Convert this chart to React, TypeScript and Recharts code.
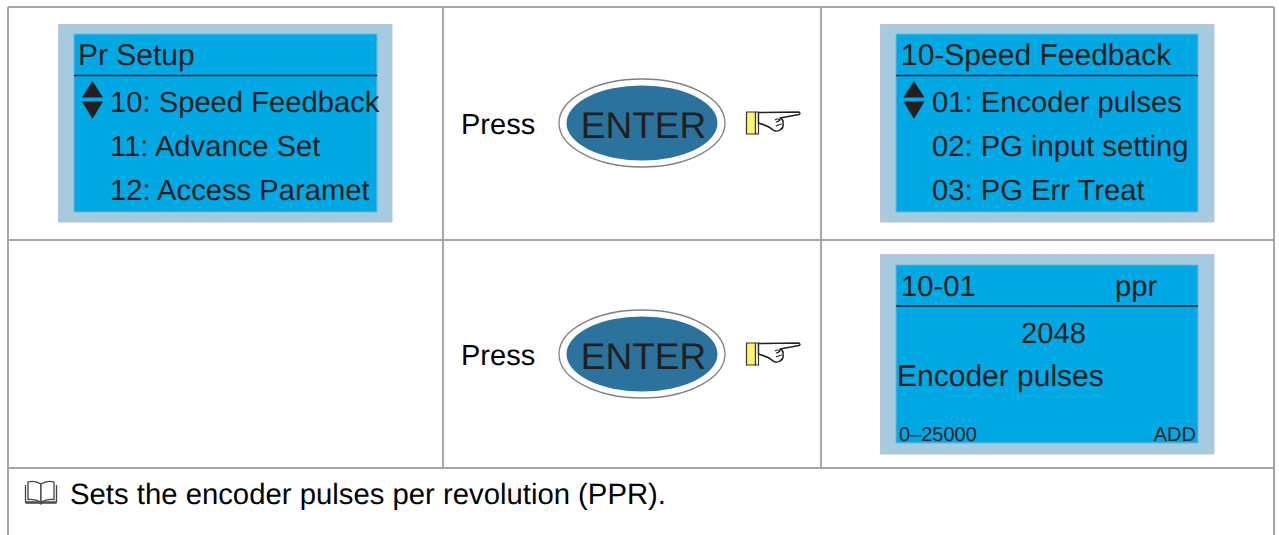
import { ScatterChart, Scatter, XAxis, YAxis, ReferenceArea, ReferenceLine } from 'recharts'

const WIDTH = 1279
const HEIGHT = 535

// table grid, read in picture pixels
const columnEdges = [8, 443, 821, 1274]
const rowEdges = [7, 240, 468]

// lcd screens: [outer left, outer right, outer top, outer bottom]
const screenOuter = [
  [58.5, 392, 24.5, 222],
  [880.5, 1214, 24.5, 222],
  [880.5, 1214, 254.5, 454],
]
const screenInner = [
  [74, 377, 34, 212],
  [896, 1198, 34, 212],
  [896, 1198, 265, 443],
]
const screenRuleY = [75.5, 75.5, 306]

const titleLabels = ['Pr Setup', '10-Speed Feedback', 'Encoder pulses']
const titleX = [78, 901, 897]
const titleY = [65, 65, 386]

const menuLabels = ['10: Speed Feedback', '11: Advance Set', '12: Access Paramet']
const menuX = [110, 110, 110]
const feedbackLabels = ['01: Encoder pulses', '02: PG input setting', '03: PG Err Treat']
const feedbackX = [932, 932, 932]
const menuBaselines = [112, 156, 200]

const paramLabels = ['10-01', 'ppr', '2048']
const paramX = [901, 1115, 1021]
const paramY = [296, 296, 343]
const rangeLabels = ['0–25000']
const addLabels = ['ADD']

const arrowX = [92.5, 914]
const arrowY = [100, 100]

const pressX = [461, 461]
const pressY = [134, 365]
const enterX = [642, 642]
const enterY = [123, 354]
const handX = [773, 773]
const handY = [123, 354]

const noteLabel = 'Sets the encoder pulses per revolution (PPR).'

const FONT = '"Liberation Sans", Arial, sans-serif'
const INK = '#231f20'

const titlePoints = titleLabels.map((label, i) => ({ x: titleX[i], y: titleY[i], label }))
const lcdPoints = [
  ...menuLabels.map((label, i) => ({ x: menuX[i], y: menuBaselines[i], label })),
  ...feedbackLabels.map((label, i) => ({ x: feedbackX[i], y: menuBaselines[i], label })),
  ...paramLabels.map((label, i) => ({ x: paramX[i], y: paramY[i], label })),
]

const TextMark = ({ cx, cy, payload, size, fill, anchor }: any) => (
  <text
    x={cx}
    y={cy}
    fontSize={size}
    fontFamily={FONT}
    fill={fill}
    textAnchor={anchor || 'start'}
    textRendering="geometricPrecision"
  >
    {payload.label}
  </text>
)

const ArrowsMark = ({ cx, cy }: any) => (
  <g fill={INK}>
    <path d={`M${cx} ${cy - 19}L${cx + 10.5} ${cy - 2.5}H${cx - 10.5}Z`} />
    <path d={`M${cx} ${cy + 19}L${cx + 10.5} ${cy + 1.5}H${cx - 10.5}Z`} />
  </g>
)

const EnterMark = ({ cx, cy }: any) => (
  <g>
    <ellipse cx={cx} cy={cy} rx={83} ry={44} fill="#fff" stroke="#808080" strokeWidth={1.3} />
    <ellipse cx={cx} cy={cy} rx={75.5} ry={37.5} fill="#2b729c" />
    <text
      x={cx + 1.5}
      y={cy + 14.5}
      fontSize={37}
      fontFamily={FONT}
      fill={INK}
      textAnchor="middle"
      textRendering="geometricPrecision"
    >
      ENTER
    </text>
  </g>
)

const HandMark = ({ cx, cy }: any) => (
  <g transform={`translate(${cx} ${cy})`} strokeLinejoin="round">
    <rect x={-26.5} y={-11} width={9} height={22} fill="#fff568" stroke="#333" strokeWidth={1.2} />
    <rect x={-17.5} y={-11} width={3} height={22} fill="#fff" stroke="#333" strokeWidth={1.2} />
    <path
      d="M-14.5 -10.5 L26 -11 Q28 -9.5 26 -8.5 L7 -5 Q11 -3 10 0 Q11 5 7 7 Q4 9 1 7.5 L-4 4 L-14.5 0 Z"
      fill="#fff"
      stroke="#222"
      strokeWidth={1.4}
    />
    <path
      d="M-14.5 0 Q-6 2 0 7 M2 -3 Q5 -5 7 -3 Q5 -1 3 -1 M3 3 Q7 1 9 1"
      fill="none"
      stroke="#222"
      strokeWidth={1.2}
    />
  </g>
)

const BookMark = ({ cx, cy }: any) => (
  <g transform={`translate(${cx} ${cy})`} fill="#fff" stroke="#444" strokeWidth={1.3}>
    <path d="M-15.5 -7 V10 H15.5 V-7" />
    <path d="M0 10 Q-6 6.5 -13 7.5 V-10 Q-6 -12 0 -8 Z" />
    <path d="M0 10 Q6 6.5 13 7.5 V-10 Q6 -12 0 -8 Z" />
    <path d="M-15.5 11 H-2 L0 12 L2 11 H15.5" fill="none" />
  </g>
)

export default function App() {
  return (
    <div style={{ position: 'absolute', left: 0, top: 0, width: WIDTH, height: HEIGHT, background: '#fff' }}>
      <ScatterChart width={WIDTH} height={HEIGHT} margin={{ top: 0, right: 0, bottom: 0, left: 0 }}>
        <XAxis type="number" dataKey="x" domain={[0, WIDTH]} hide />
        <YAxis type="number" dataKey="y" domain={[0, HEIGHT]} reversed hide />

        {rowEdges.map(y => (
          <ReferenceLine key={y} segment={[{ x: columnEdges[0], y }, { x: columnEdges[3], y }]} stroke="#a6a6a6" strokeWidth={2} />
        ))}
        <ReferenceLine segment={[{ x: columnEdges[0], y: rowEdges[0] }, { x: columnEdges[0], y: HEIGHT }]} stroke="#a6a6a6" strokeWidth={2} />
        <ReferenceLine segment={[{ x: columnEdges[3], y: rowEdges[0] }, { x: columnEdges[3], y: HEIGHT }]} stroke="#a6a6a6" strokeWidth={2} />
        <ReferenceLine segment={[{ x: columnEdges[1], y: rowEdges[0] }, { x: columnEdges[1], y: rowEdges[2] }]} stroke="#a6a6a6" strokeWidth={2} />
        <ReferenceLine segment={[{ x: columnEdges[2], y: rowEdges[0] }, { x: columnEdges[2], y: rowEdges[2] }]} stroke="#a6a6a6" strokeWidth={2} />

        {screenOuter.map((r, i) => (
          <ReferenceArea key={`o${i}`} x1={r[0]} x2={r[1]} y1={r[2]} y2={r[3]} fill="#a6cade" fillOpacity={1} stroke="#bcc2e0" strokeWidth={1} />
        ))}
        {screenInner.map((r, i) => (
          <ReferenceArea key={`i${i}`} x1={r[0]} x2={r[1]} y1={r[2]} y2={r[3]} fill="#00a9e4" fillOpacity={1} stroke="#6fb6e0" strokeWidth={1} />
        ))}
        {screenRuleY.map((y, i) => (
          <ReferenceLine key={`r${i}`} segment={[{ x: screenInner[i][0], y }, { x: screenInner[i][1], y }]} stroke={INK} strokeWidth={1.6} />
        ))}

        <Scatter
          data={titlePoints}
          isAnimationActive={false}
          shape={(p: any) => <TextMark {...p} size={30} fill={INK} />}
        />
        <Scatter
          data={lcdPoints}
          isAnimationActive={false}
          shape={(p: any) => <TextMark {...p} size={29.2} fill={INK} />}
        />
        <Scatter
          data={rangeLabels.map(label => ({ x: 899, y: 441, label }))}
          isAnimationActive={false}
          shape={(p: any) => <TextMark {...p} size={20} fill={INK} />}
        />
        <Scatter
          data={addLabels.map(label => ({ x: 1196, y: 441, label }))}
          isAnimationActive={false}
          shape={(p: any) => <TextMark {...p} size={20} fill={INK} anchor="end" />}
        />
        <Scatter
          data={arrowX.map((x, i) => ({ x, y: arrowY[i] }))}
          isAnimationActive={false}
          shape={(p: any) => <ArrowsMark {...p} />}
        />
        <Scatter
          data={pressX.map((x, i) => ({ x, y: pressY[i], label: 'Press' }))}
          isAnimationActive={false}
          shape={(p: any) => <TextMark {...p} size={29} fill="#000" />}
        />
        <Scatter
          data={enterX.map((x, i) => ({ x, y: enterY[i] }))}
          isAnimationActive={false}
          shape={(p: any) => <EnterMark {...p} />}
        />
        <Scatter
          data={handX.map((x, i) => ({ x, y: handY[i] }))}
          isAnimationActive={false}
          shape={(p: any) => <HandMark {...p} />}
        />
        <Scatter
          data={[{ x: 41, y: 492 }]}
          isAnimationActive={false}
          shape={(p: any) => <BookMark {...p} />}
        />
        <Scatter
          data={[{ x: 70, y: 504, label: noteLabel }]}
          isAnimationActive={false}
          shape={(p: any) => <TextMark {...p} size={29.3} fill="#000" />}
        />
      </ScatterChart>
    </div>
  )
}
